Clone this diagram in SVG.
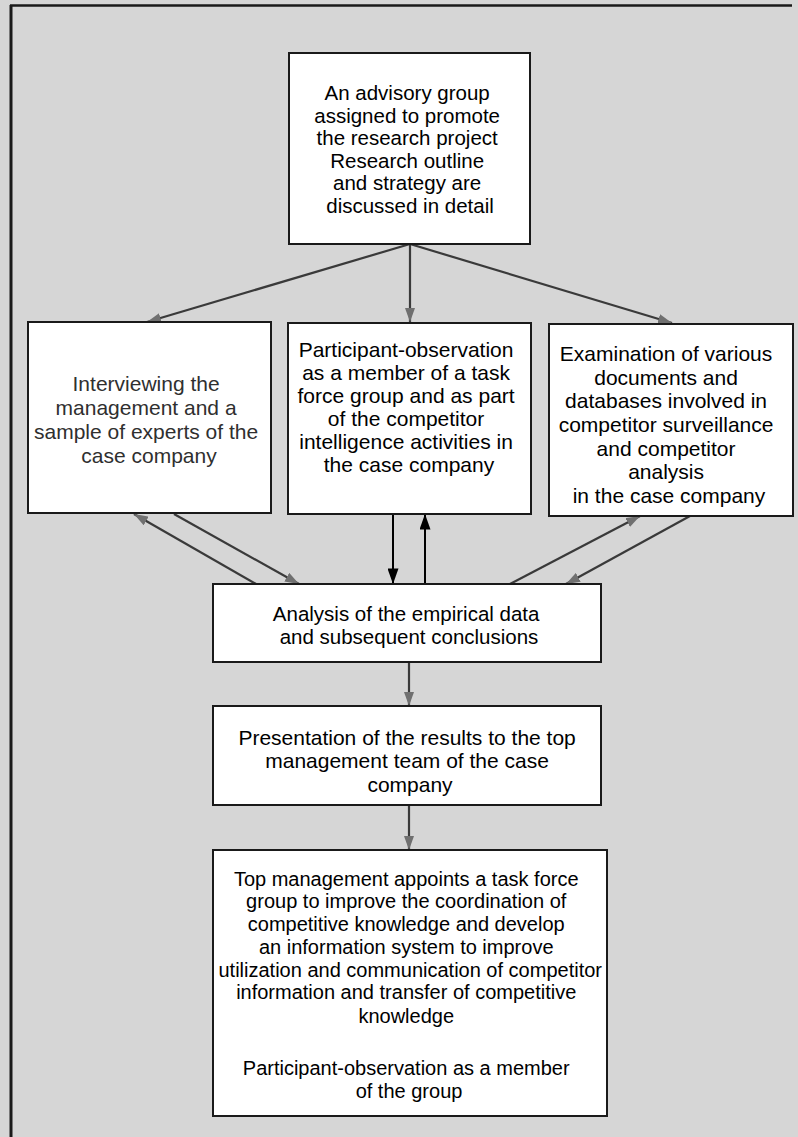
<svg xmlns="http://www.w3.org/2000/svg" width="798" height="1137" viewBox="0 0 798 1137">
  <style>
    .box { fill: #ffffff; stroke: #1a1a1a; stroke-width: 2; }
    .txt { font-family: "Liberation Sans", Arial, sans-serif; font-size: 20.5px; fill: #000; text-anchor: middle; }
    .big { font-size: 21px; }
    .small { font-size: 20px; }
    .soft { fill: #2f2f2f; }
    .linkg { stroke: #3a3a3a; stroke-width: 2.2; fill: none; marker-end: url(#headGray); }
    .linkb { stroke: #000000; stroke-width: 2; fill: none; marker-end: url(#headBlack); }
  </style>
  <defs>
    <marker id="headGray" viewBox="0 0 14 10" refX="14" refY="5" markerWidth="14" markerHeight="10" markerUnits="userSpaceOnUse" orient="auto">
      <path d="M0,0 L14,5 L0,10 z" fill="#707070"/>
    </marker>
    <marker id="headBlack" viewBox="0 0 14 10" refX="14" refY="5" markerWidth="16" markerHeight="11" markerUnits="userSpaceOnUse" orient="auto">
      <path d="M0,0 L14,5 L0,10 z" fill="#000000"/>
    </marker>
  </defs>

  <!-- page background and frame -->
  <rect x="0" y="0" width="798" height="1137" fill="#d6d6d6"/>
  <line x1="11" y1="5" x2="11" y2="1137" stroke="#1a1a1a" stroke-width="3"/>
  <line x1="10" y1="5.5" x2="792" y2="5.5" stroke="#1a1a1a" stroke-width="2.5"/>

  <!-- connectors -->
  <g id="connectors">
    <line class="linkg" x1="410" y1="244" x2="147" y2="322"/>
    <line class="linkg" x1="410" y1="244" x2="410" y2="322"/>
    <line class="linkg" x1="410" y1="244" x2="672" y2="323"/>
    <line class="linkg" x1="256" y1="584" x2="134" y2="514"/>
    <line class="linkg" x1="174" y1="514" x2="299" y2="584"/>
    <line class="linkg" x1="510" y1="584" x2="640" y2="516"/>
    <line class="linkg" x1="690" y1="516" x2="566" y2="584"/>
    <line class="linkb" x1="393" y1="514" x2="393" y2="584"/>
    <line class="linkb" x1="425" y1="584" x2="425" y2="514"/>
    <line class="linkg" x1="409" y1="662" x2="409" y2="706"/>
    <line class="linkg" x1="409" y1="805" x2="409" y2="850"/>
  </g>

  <g id="advisory">
    <rect class="box" x="289" y="53" width="241" height="191"/>
    <text class="txt">
      <tspan x="410" y="100">An advisory group</tspan>
      <tspan x="410" y="122.6">assigned to promote</tspan>
      <tspan x="410" y="145.2">the research project</tspan>
      <tspan x="410" y="167.8">Research outline</tspan>
      <tspan x="410" y="190.4">and strategy are</tspan>
      <tspan x="410" y="213">discussed in detail</tspan>
    </text>
  </g>

  <g id="interviewing">
    <rect class="box" x="28" y="322" width="243" height="191"/>
    <text class="txt big soft">
      <tspan x="149" y="391">Interviewing the</tspan>
      <tspan x="149" y="415">management and a</tspan>
      <tspan x="149" y="439">sample of experts of the</tspan>
      <tspan x="149" y="463">case company</tspan>
    </text>
  </g>

  <g id="participant">
    <rect class="box" x="288" y="323" width="243" height="191"/>
    <text class="txt big">
      <tspan x="409" y="357">Participant-observation</tspan>
      <tspan x="409" y="380">as a member of a task</tspan>
      <tspan x="409" y="403">force group and as part</tspan>
      <tspan x="409" y="426">of the competitor</tspan>
      <tspan x="409" y="449">intelligence activities in</tspan>
      <tspan x="409" y="472">the case company</tspan>
    </text>
  </g>

  <g id="examination">
    <rect class="box" x="549" y="324" width="244" height="192"/>
    <text class="txt big">
      <tspan x="669" y="361">Examination of various</tspan>
      <tspan x="669" y="384.7">documents and</tspan>
      <tspan x="669" y="408.3">databases involved in</tspan>
      <tspan x="669" y="432">competitor surveillance</tspan>
      <tspan x="669" y="455.7">and competitor</tspan>
      <tspan x="669" y="479.3">analysis</tspan>
      <tspan x="669" y="503">in the case company</tspan>
    </text>
  </g>

  <g id="analysis">
    <rect class="box" x="213" y="584" width="388" height="78"/>
    <text class="txt">
      <tspan x="409" y="621">Analysis of the empirical data</tspan>
      <tspan x="409" y="643.5">and subsequent conclusions</tspan>
    </text>
  </g>

  <g id="presentation">
    <rect class="box" x="213" y="706" width="388" height="99"/>
    <text class="txt big">
      <tspan x="410" y="745">Presentation of the results to the top</tspan>
      <tspan x="410" y="768.3">management team of  the case</tspan>
      <tspan x="410" y="791.7">company</tspan>
    </text>
  </g>

  <g id="taskforce">
    <rect class="box" x="213" y="850" width="394" height="266"/>
    <text class="txt small">
      <tspan x="409" y="885.7">Top management appoints a task force</tspan>
      <tspan x="409" y="908.3">group to improve the coordination of</tspan>
      <tspan x="409" y="931">competitive knowledge and develop</tspan>
      <tspan x="409" y="953.5">an information system to improve</tspan>
      <tspan x="413" y="976.7">utilization and communication of competitor</tspan>
      <tspan x="409" y="999.3">information and transfer of competitive</tspan>
      <tspan x="409" y="1022.7">knowledge</tspan>
      <tspan x="409" y="1075">Participant-observation as a member</tspan>
      <tspan x="409" y="1098.3">of the group</tspan>
    </text>
  </g>
</svg>
